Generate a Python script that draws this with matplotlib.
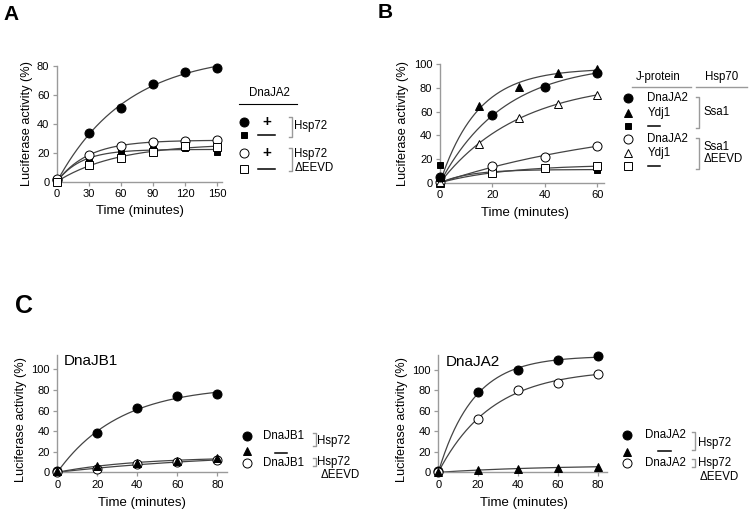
import numpy as np
import matplotlib.pyplot as plt
from matplotlib.lines import Line2D

plt.rcParams['font.family'] = ['Liberation Sans', 'DejaVu Sans']

W, H = 750, 517

# ---- data ----
a_time = [0, 30, 60, 90, 120, 150]
a_wt_dnaja2 = [1, 33.6, 51, 67.7, 75.8, 78.8]
a_wt_none = [0, 15.8, 20.9, 22.7, 23, 20.4]
a_eevd_dnaja2 = [2, 18.5, 24.6, 27.6, 28, 28.5]
a_eevd_none = [0, 11.6, 16.5, 20.2, 24.6, 23.9]

b_time_circ = [0, 20, 40, 60]
b_time_tri = [0, 15, 30, 45, 60]
b_ssa1_dnaja2 = [5, 57.2, 81.1, 93]
b_ssa1_ydj1 = [5, 64.8, 80.6, 93, 96.3]
b_ssa1_none = [14.9, 9, 11.3, 10.7]
b_eevd_dnaja2 = [1, 14.1, 22, 31.3]
b_eevd_ydj1 = [1, 32.7, 54.9, 66.5, 74]
b_eevd_none = [0, 8.5, 12.1, 14]

c_time = [0, 20, 40, 60, 80]
c1_wt_dnajb1 = [1, 37.9, 62.8, 73.8, 76]
c1_wt_none = [1, 6.5, 9.4, 11, 13.6]
c1_eevd_dnajb1 = [0, 3.2, 7.8, 10.4, 11.7]
c2_wt_dnaja2 = [1, 78.2, 99.7, 109.8, 113.4]
c2_wt_none = [0, 2.3, 3.6, 4.6, 5.5]
c2_eevd_dnaja2 = [0, 51.8, 80.1, 87.6, 96.4]

GREY = '#9a9a9a'
LINE = '#444444'


def fit_curve(t, y):
    # y = b * (1 - exp(-k t)), grid over k, least squares for b
    t = np.asarray(t, float)
    y = np.asarray(y, float)
    best = None
    for k in np.logspace(-3.5, 0, 400):
        g = 1 - np.exp(-k * t)
        b = (g @ y) / (g @ g)
        err = np.sum((b * g - y) ** 2)
        if best is None or err < best[0]:
            best = (err, k, b)
    tt = np.linspace(0, t.max(), 200)
    return tt, best[2] * (1 - np.exp(-best[1] * tt))


def px(x, y):
    return x / W, 1 - y / H


fig = plt.figure(figsize=(7.5, 5.17), dpi=100)


def make_ax(l, r, b, t):
    x0, y0 = px(l, b)
    x1, y1 = px(r, t)
    ax = fig.add_axes([x0, y0, x1 - x0, y1 - y0])
    for s in ['top', 'right']:
        ax.spines[s].set_visible(False)
    for s in ['left', 'bottom']:
        ax.spines[s].set_color(GREY)
        ax.spines[s].set_linewidth(1.0)
    ax.tick_params(length=3, width=0.9, color=GREY, labelsize=8, pad=2.5)
    return ax


def series(ax, t, y, marker, filled, ms):
    tt, yy = fit_curve(t, y)
    ax.plot(tt, yy, color=LINE, lw=0.9, zorder=2, clip_on=False)
    ax.plot(t, y, ls='none', marker=marker, ms=ms,
            mfc='black' if filled else 'white', mec='black', mew=0.7,
            zorder=3, clip_on=False)


def labels(ax, ylx, yly, xlx, xly):
    ax.set_ylabel('Luciferase activity (%)', fontsize=9.2)
    ax.yaxis.set_label_coords(*px(ylx, yly), transform=fig.transFigure)
    ax.set_xlabel('Time (minutes)', fontsize=9.5)
    ax.xaxis.set_label_coords(*px(xlx, xly), transform=fig.transFigure)
    ax.yaxis.label.set_va('center')
    ax.xaxis.label.set_va('center')


def ftext(x, y, s, size=8.3, ha='left', **kw):
    fig.text(*px(x, y), s, fontsize=size, ha=ha, va='center', **kw)


def fline(xs, ys, color='black', lw=0.8):
    fig.add_artist(Line2D([x / W for x in xs], [1 - y / H for y in ys],
                          color=color, lw=lw))


def fmark(x, y, marker, filled, ms):
    fig.add_artist(Line2D([x / W], [1 - y / H], marker=marker, ms=ms, ls='none',
                          mfc='black' if filled else 'white', mec='black', mew=0.7))


def bracket(x, y0, y1):
    fline([x - 3, x, x, x - 3], [y0, y0, y1, y1], color=GREY, lw=1.0)


# ---- panel A ----
axA = make_ax(57, 222.3, 181.5, 66)
series(axA, a_time, a_wt_dnaja2, 'o', True, 6.5)
series(axA, a_time, a_wt_none, 's', True, 5)
series(axA, a_time, a_eevd_dnaja2, 'o', False, 6.5)
series(axA, a_time, a_eevd_none, 's', False, 5.5)
axA.set_xlim(0, 155)
axA.set_ylim(0, 80)
axA.set_xticks(a_time)
axA.set_yticks([0, 20, 40, 60, 80])
labels(axA, 27, 124, 140, 211)

ftext(269.7, 93, 'DnaJA2', ha='center')
fline([239, 297], [104.3, 104.3], lw=0.8)
rowsA = [121.7, 135, 153.3, 169.3]
for yy, m, f, ms in zip(rowsA, ['o', 's', 'o', 's'], [True, True, False, False], [6.5, 5, 6.5, 5.5]):
    fmark(244, yy, m, f, ms)
for yy in (rowsA[0], rowsA[2]):
    ftext(266.7, yy, '+', size=11, ha='center', fontweight='bold')
for yy in (rowsA[1], rowsA[3]):
    fline([258, 275], [yy, yy], lw=1.1)
bracket(291.7, 116.7, 137.3)
ftext(294.3, 126, 'Hsp72')
bracket(291.7, 148.3, 171)
ftext(294.3, 154, 'Hsp72')
ftext(294.3, 168.3, '\u0394EEVD')

# ---- panel B ----
axB = make_ax(440, 604, 182.7, 64.3)
series(axB, b_time_circ, b_ssa1_none, 's', True, 5)
series(axB, b_time_circ, b_eevd_none, 's', False, 5.5)
series(axB, b_time_circ, b_eevd_dnaja2, 'o', False, 6.5)
series(axB, b_time_tri, b_eevd_ydj1, '^', False, 6)
series(axB, b_time_tri, b_ssa1_ydj1, '^', True, 6)
series(axB, b_time_circ, b_ssa1_dnaja2, 'o', True, 6.5)
axB.set_xlim(0, 62.5)
axB.set_ylim(0, 100)
axB.set_xticks([0, 20, 40, 60])
axB.set_yticks([0, 20, 40, 60, 80, 100])
labels(axB, 403, 124, 525, 213)

ftext(658.3, 77.3, 'J-protein', ha='center')
ftext(721.7, 77.3, 'Hsp70', ha='center')
fline([631.7, 691], [87.3, 87.3], color=GREY, lw=1.0)
fline([695.7, 746.7], [87.3, 87.3], color=GREY, lw=1.0)
rowsB = [98.3, 112.7, 126, 139.3, 153.3, 166]
mB = ['o', '^', 's', 'o', '^', 's']
fB = [True, True, True, False, False, False]
msB = [6.5, 6, 5, 6.5, 6, 5.5]
namesB = ['DnaJA2', 'Ydj1', None, 'DnaJA2', 'Ydj1', None]
for yy, m, f, ms, nm in zip(rowsB, mB, fB, msB, namesB):
    fmark(628.3, yy, m, f, ms)
    if nm:
        ftext(647.3, yy, nm)
    else:
        fline([648, 660], [yy, yy], lw=1.1)
bracket(699.3, 96.7, 128.3)
ftext(704, 111.7, 'Ssa1')
bracket(699.3, 138.3, 169.3)
ftext(704, 146.7, 'Ssa1')
ftext(704, 159.3, '\u0394EEVD')

# ---- panel C left ----
axC1 = make_ax(57.3, 226.7, 472.3, 355)
series(axC1, c_time, c1_wt_dnajb1, 'o', True, 6.5)
series(axC1, c_time, c1_eevd_dnajb1, 'o', False, 6.5)
series(axC1, c_time, c1_wt_none, '^', True, 6)
axC1.set_xlim(0, 84.7)
axC1.set_ylim(0, 114)
axC1.set_xticks(c_time)
axC1.set_yticks([0, 20, 40, 60, 80, 100])
labels(axC1, 20.7, 420, 141.5, 502.7)
axC1.text(3.3, 108, 'DnaJB1', fontsize=11, va='center', ha='left')

rowsC1 = [435.7, 451, 462.7]
for yy, m, f, ms in zip(rowsC1, ['o', '^', 'o'], [True, True, False], [6.5, 6, 6.5]):
    fmark(246.7, yy, m, f, ms)
ftext(263.3, 435.7, 'DnaJB1')
fline([275, 287], [452.7, 452.7], lw=1.1)
ftext(263.3, 462.7, 'DnaJB1')
bracket(316, 433.3, 446)
ftext(317.3, 440.7, 'Hsp72')
bracket(316, 458.3, 465.7)
ftext(317.3, 462, 'Hsp72')
ftext(320.7, 475, '\u0394EEVD')

# ---- panel C right ----
axC2 = make_ax(438.3, 606.7, 472.3, 355)
series(axC2, c_time, c2_wt_dnaja2, 'o', True, 6.5)
series(axC2, c_time, c2_eevd_dnaja2, 'o', False, 6.5)
series(axC2, c_time, c2_wt_none, '^', True, 6)
axC2.set_xlim(0, 84.6)
axC2.set_ylim(0, 114.5)
axC2.set_xticks(c_time)
axC2.set_yticks([0, 20, 40, 60, 80, 100])
labels(axC2, 401.7, 420, 524, 502.7)
axC2.text(3.5, 108, 'DnaJA2', fontsize=11, va='center', ha='left')

rowsC2 = [435, 451.7, 462.7]
for yy, m, f, ms in zip(rowsC2, ['o', '^', 'o'], [True, True, False], [6.5, 6, 6.5]):
    fmark(626.7, yy, m, f, ms)
ftext(645, 435, 'DnaJA2')
fline([657.7, 671], [451, 451], lw=1.1)
ftext(645, 462.7, 'DnaJA2')
bracket(695, 431.7, 450)
ftext(698.3, 443.3, 'Hsp72')
bracket(695, 459.3, 466.7)
ftext(698.3, 463.3, 'Hsp72')
ftext(700, 477.3, '\u0394EEVD')

# ---- panel letters ----
ftext(3, 14.5, 'A', size=15, fontweight='bold')
ftext(378, 12.5, 'B', size=15, fontweight='bold')
ftext(15, 306, 'C', size=18, fontweight='bold')

fig.savefig('out.png', dpi=100)
